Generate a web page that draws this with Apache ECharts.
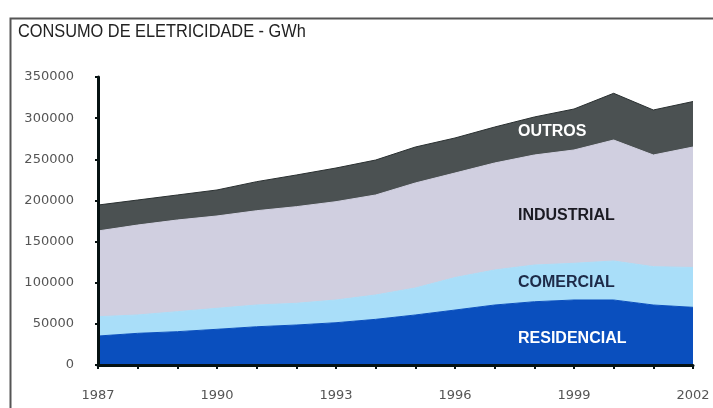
<!DOCTYPE html>
<html>
<head>
<meta charset="utf-8">
<script src="https://cdn.jsdelivr.net/npm/echarts@6/dist/echarts.min.js"></script>
<style>
html,body{margin:0;padding:0;background:#fff;}
#chart{width:713px;height:408px;}
</style>
</head>
<body>
<div id="chart"></div>
<script>
const years = ['1987','1988','1989','1990','1991','1992','1993','1994','1995','1996','1997','1998','1999','2000','2001','2002'];
const residencial = [35200, 38500, 40500, 43400, 46500, 48600, 51400, 55500, 60800, 66800, 72900, 76900, 79000, 79000, 72900, 70100];
const comercial   = [23500, 22300, 24300, 25500, 26400, 26400, 27600, 29600, 32800, 39500, 42600, 44600, 44600, 47400, 46600, 48400];
const industrial  = [104200, 109300, 111400, 112200, 114600, 117400, 119500, 121500, 127600, 127000, 130000, 133700, 137700, 147000, 135700, 146400];
const outros      = [31500, 30400, 30400, 31600, 35300, 38500, 40900, 42500, 43700, 42600, 43700, 46200, 49800, 56800, 54700, 55300];
const yTicks = [0, 50000, 100000, 150000, 200000, 250000, 300000, 350000];
const titleText = 'CONSUMO DE ELETRICIDADE - GWh';

const chart = echarts.init(document.getElementById('chart'), null, {renderer: 'canvas'});

function area(name, data, color, lineColor) {
  return {
    name: name, type: 'line', stack: 'total', data: data, z: -5, zlevel: 0,
    symbol: 'none', smooth: false,
    lineStyle: {width: 1, color: lineColor || color},
    areaStyle: {color: color, opacity: 1},
    itemStyle: {color: color},
    emphasis: {disabled: true}
  };
}

const labelFont = 'Liberation Sans, Arial, sans-serif';
const axisColor = '#061212';

chart.setOption({
  animation: false,
  backgroundColor: '#ffffff',
  textStyle: {fontFamily: labelFont},
  grid: {left: 98, right: 20, top: 77, bottom: 43, containLabel: false},
  xAxis: {
    type: 'category', data: years, boundaryGap: false, zlevel: 2, z: 20,
    axisLine: {show: true, onZero: false, lineStyle: {color: axisColor, width: 3}},
    axisTick: {show: true, interval: 0, length: 4, lineStyle: {color: axisColor, width: 2}},
    axisLabel: {interval: 2, color: '#555', fontSize: 13, margin: 24, fontFamily: 'DejaVu Sans, sans-serif', showMaxLabel: true}
  },
  yAxis: {
    type: 'value', min: yTicks[0], max: yTicks[yTicks.length - 1], interval: yTicks[1] - yTicks[0], zlevel: 2, z: 20,
    splitLine: {show: false},
    axisLine: {show: true, onZero: false, lineStyle: {color: axisColor, width: 3}},
    axisTick: {show: true, length: 3, lineStyle: {color: axisColor, width: 2}},
    axisLabel: {color: '#555', fontSize: 13, margin: 24, fontFamily: 'DejaVu Sans, sans-serif', formatter: function (v) { return String(v); }}
  },
  series: [
    area('RESIDENCIAL', residencial, '#0a4fbe'),
    area('COMERCIAL', comercial, '#a9def9'),
    area('INDUSTRIAL', industrial, '#d0cfe0'),
    area('OUTROS', outros, '#4b5152', '#2a3031')
  ],
  graphic: [
    {type: 'rect', z: 100, zlevel: 3, left: 8, top: 16, shape: {width: 720, height: 400}, style: {fill: 'none', stroke: '#555', lineWidth: 2}, silent: true},
    {type: 'text', z: 100, zlevel: 3, left: 18, top: 22, scaleX: 0.86, style: {text: titleText, fontSize: 19, fill: '#222', fontFamily: labelFont}},
    {type: 'text', z: 100, zlevel: 3, x: 518, y: 132, style: {text: 'OUTROS', fontSize: 16, fontWeight: 'bold', fill: '#ffffff', align: 'left', verticalAlign: 'middle', fontFamily: labelFont}},
    {type: 'text', z: 100, zlevel: 3, x: 518, y: 216, style: {text: 'INDUSTRIAL', fontSize: 16, fontWeight: 'bold', fill: '#1a1a22', align: 'left', verticalAlign: 'middle', fontFamily: labelFont}},
    {type: 'text', z: 100, zlevel: 3, x: 518, y: 283, style: {text: 'COMERCIAL', fontSize: 16, fontWeight: 'bold', fill: '#1d2a48', align: 'left', verticalAlign: 'middle', fontFamily: labelFont}},
    {type: 'text', z: 100, zlevel: 3, x: 518, y: 339, style: {text: 'RESIDENCIAL', fontSize: 16, fontWeight: 'bold', fill: '#ffffff', align: 'left', verticalAlign: 'middle', fontFamily: labelFont}}
  ]
});
</script>
</body>
</html>
